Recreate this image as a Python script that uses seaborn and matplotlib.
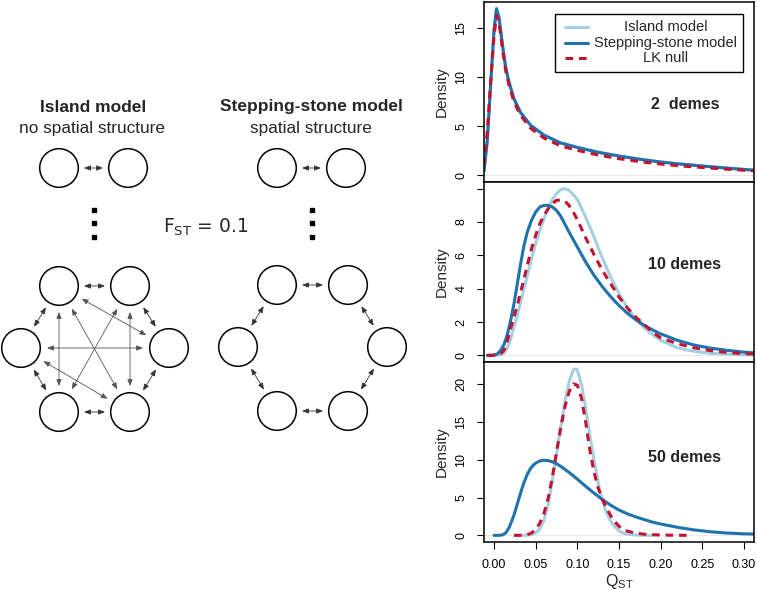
import numpy as np
import pandas as pd
import matplotlib
matplotlib.use("Agg")
import matplotlib.pyplot as plt
import seaborn as sns
from matplotlib.patches import Circle, FancyArrowPatch, Rectangle

# ---------------- data ----------------
models = ["Island model", "Stepping-stone model", "LK null"]

# 2 demes
x2 = [-0.012, -0.008, -0.004, 0.0, 0.003, 0.006, 0.01, 0.014, 0.018, 0.024, 0.032,
      0.044, 0.06, 0.08, 0.10, 0.125, 0.15, 0.175, 0.20, 0.225, 0.25, 0.275, 0.30, 0.312]
island2 = [0.4, 3.6, 9.3, 14.8, 17.0, 16.1, 13.4, 11.0, 9.5, 7.8, 6.4,
           5.1, 4.1, 3.3, 2.85, 2.35, 1.97, 1.64, 1.36, 1.14, 0.95, 0.77, 0.6, 0.53]
stepping2 = [0.4, 3.6, 9.3, 14.8, 17.0, 16.1, 13.4, 11.0, 9.5, 7.8, 6.4,
             5.1, 4.1, 3.3, 2.85, 2.35, 1.97, 1.64, 1.36, 1.14, 0.95, 0.77, 0.6, 0.53]
lk2 = [1.0, 4.5, 9.6, 14.2, 16.3, 15.6, 13.0, 10.7, 9.2, 7.5, 6.1,
       4.8, 3.8, 3.0, 2.55, 2.07, 1.7, 1.4, 1.15, 0.95, 0.8, 0.65, 0.52, 0.47]

# 10 demes
x10 = [-0.008, -0.004, 0.0, 0.004, 0.008, 0.012, 0.016, 0.02, 0.024, 0.028, 0.032, 0.036,
       0.04, 0.045, 0.05, 0.055, 0.06, 0.065, 0.07, 0.075, 0.08, 0.085, 0.09, 0.095,
       0.10, 0.11, 0.12, 0.13, 0.14, 0.15, 0.16, 0.17, 0.18, 0.19, 0.20, 0.22, 0.24,
       0.26, 0.28, 0.30, 0.312]
island10 = [0.0, 0.0, 0.0, 0.01, 0.03, 0.12, 0.45, 1.0, 1.7, 2.4, 3.2, 4.0,
            4.8, 5.8, 6.7, 7.5, 8.2, 8.85, 9.35, 9.7, 9.95, 10.0, 9.9, 9.65,
            9.35, 8.3, 7.1, 5.85, 4.7, 3.7, 2.85, 2.2, 1.65, 1.25, 0.9, 0.45, 0.24,
            0.12, 0.06, 0.03, 0.02]
stepping10 = [0.0, 0.0, 0.02, 0.08, 0.3, 0.65, 1.25, 2.1, 3.1, 4.3, 5.5, 6.6,
              7.4, 8.1, 8.6, 8.9, 9.0, 9.0, 8.9, 8.7, 8.35, 7.88, 7.4, 6.95,
              6.5, 5.6, 4.8, 4.12, 3.52, 2.99, 2.53, 2.14, 1.81, 1.53, 1.29, 0.9, 0.62,
              0.43, 0.3, 0.19, 0.15]
lk10 = [0.0, 0.0, 0.0, 0.02, 0.1, 0.3, 0.85, 1.6, 2.3, 3.0, 3.8, 4.6,
        5.4, 6.4, 7.2, 7.9, 8.4, 8.8, 9.1, 9.3, 9.32, 9.25, 9.0, 8.6,
        8.15, 7.05, 6.05, 5.1, 4.3, 3.5, 2.85, 2.3, 1.85, 1.4, 1.05, 0.7, 0.45,
        0.28, 0.17, 0.1, 0.08]

# 50 demes
x50_island = [0.03, 0.04, 0.045, 0.05, 0.055, 0.06, 0.065, 0.07, 0.075, 0.08, 0.085,
              0.09, 0.095, 0.098, 0.10, 0.105, 0.11, 0.115, 0.12, 0.125, 0.13, 0.135,
              0.14, 0.145, 0.15, 0.155, 0.16, 0.17, 0.18, 0.19]
island50 = [0.0, 0.02, 0.1, 0.3, 0.85, 2.0, 4.1, 7.2, 10.8, 14.3, 17.6,
            20.3, 21.9, 22.1, 21.9, 20.0, 16.8, 13.3, 10.0, 7.0, 4.6, 3.0,
            1.9, 1.15, 0.6, 0.3, 0.15, 0.04, 0.01, 0.0]
x50_stepping = [0.0, 0.005, 0.01, 0.014, 0.018, 0.021, 0.024, 0.027, 0.03, 0.033, 0.036,
                0.04, 0.044, 0.048, 0.052, 0.056, 0.06, 0.065, 0.07, 0.075, 0.08, 0.085,
                0.09, 0.095, 0.10, 0.11, 0.12, 0.13, 0.14, 0.15, 0.16, 0.17, 0.18, 0.19,
                0.20, 0.22, 0.24, 0.26, 0.28, 0.30, 0.312]
stepping50 = [0.0, 0.0, 0.05, 0.3, 1.0, 1.8, 2.7, 3.8, 4.9, 6.0, 7.0,
              8.1, 8.9, 9.4, 9.7, 9.9, 9.96, 9.9, 9.75, 9.5, 9.15, 8.75,
              8.35, 7.9, 7.45, 6.5, 5.6, 4.75, 4.0, 3.35, 2.85, 2.45, 2.1, 1.76,
              1.5, 1.07, 0.72, 0.47, 0.3, 0.2, 0.17]
x50_lk = [0.024, 0.03, 0.035, 0.04, 0.045, 0.05, 0.055, 0.06, 0.065, 0.07, 0.075, 0.08,
          0.085, 0.09, 0.095, 0.10, 0.105, 0.11, 0.115, 0.12, 0.125, 0.13, 0.135, 0.14,
          0.145, 0.15, 0.155, 0.16, 0.17, 0.18, 0.19, 0.20, 0.21, 0.22, 0.235]
lk50 = [0.0, 0.0, 0.02, 0.1, 0.3, 0.8, 1.6, 2.9, 4.9, 7.7, 11.0, 14.2,
        17.0, 19.0, 20.1, 19.9, 18.2, 15.0, 11.3, 8.4, 6.3, 4.8, 3.6, 2.6,
        1.8, 1.2, 0.8, 0.55, 0.3, 0.15, 0.08, 0.04, 0.02, 0.01, 0.0]

panel_labels = ["2  demes", "10 demes", "50 demes"]
x_ticks = [0.00, 0.05, 0.10, 0.15, 0.20, 0.25, 0.30]
x_tick_labels = ["0.00", "0.05", "0.10", "0.15", "0.20", "0.25", "0.30"]
y_ticks = [[0, 5, 10, 15], [0, 2, 4, 6, 8, 10], [0, 5, 10, 15, 20]]
y_tick_labels = [["0", "5", "10", "15"], ["0", "2", "4", "6", "8", ""],
                 ["0", "5", "10", "15", "20"]]

panels = [
    [(x2, island2), (x2, stepping2), (x2, lk2)],
    [(x10, island10), (x10, stepping10), (x10, lk10)],
    [(x50_island, island50), (x50_stepping, stepping50), (x50_lk, lk50)],
]
y_limits = [(-0.68, 17.68), (-0.4, 10.4), (-0.884, 22.98)]

# ---------------- style ----------------
sns.set_theme(style="ticks")
plt.rcParams["font.family"] = ["Liberation Sans", "DejaVu Sans"]
plt.rcParams["mathtext.fontset"] = "custom"
plt.rcParams["mathtext.rm"] = "Liberation Sans"
plt.rcParams["mathtext.it"] = "Liberation Sans:italic"

colors = {"Island model": "#a6cee3", "Stepping-stone model": "#1f72ae", "LK null": "#c4122f"}
styles = {"Island model": "-", "Stepping-stone model": "-", "LK null": (0, (2.5, 1.9))}
LW = 2.2

W, H = 757, 590
fig = plt.figure(figsize=(W / 100, H / 100), dpi=100)

# ---------------- left diagram ----------------
ax0 = fig.add_axes([0, 0, 477 / W, 1])
ax0.set_xlim(0, 477)
ax0.set_ylim(H, 0)
ax0.set_axis_off()

R = 19.3

def circ(c):
    ax0.add_patch(Circle(c, R, fill=False, lw=1.1, ec="black"))

def arrow(c1, c2, off=25, col="#333333"):
    c1 = np.array(c1, float)
    c2 = np.array(c2, float)
    d = c2 - c1
    u = d / np.hypot(*d)
    p1 = c1 + u * off
    p2 = c2 - u * off
    ax0.add_patch(FancyArrowPatch(tuple(p1), tuple(p2),
                                  arrowstyle="<|-|>,head_length=0.55,head_width=0.22",
                                  mutation_scale=7, lw=0.6, color=col,
                                  shrinkA=0, shrinkB=0))

# Island model
ax0.text(93, 111.5, "Island model", ha="center", va="baseline", fontsize=12.5, weight="bold")
ax0.text(92, 133, "no spatial structure", ha="center", va="baseline", fontsize=12.4)
itop = [(59, 168), (128, 168)]
for c in itop:
    circ(c)
arrow(itop[0], itop[1])
ax0.plot([94, 94, 94], [210, 223, 237], "s", ms=3, color="black")
ih = {"TL": (59, 286), "TR": (130, 286), "L": (21, 348), "R": (169, 348),
      "BL": (59, 412), "BR": (130, 412)}
for c in ih.values():
    circ(c)
for a, b in [("TL", "TR"), ("TL", "L"), ("L", "BL"), ("BL", "BR"), ("BR", "R"), ("R", "TR")]:
    arrow(ih[a], ih[b])
for a, b in [("TL", "BL"), ("TR", "BR"), ("L", "R"), ("TL", "BR"), ("TR", "BL"),
             ("TL", "R"), ("L", "BR")]:
    arrow(ih[a], ih[b], off=26, col="#555555")

# Stepping-stone model
ax0.text(311, 111.5, "Stepping-stone model", ha="center", va="baseline", fontsize=12.5, weight="bold")
ax0.text(311, 133, "spatial structure", ha="center", va="baseline", fontsize=12.4)
stop = [(277, 168), (346, 168)]
for c in stop:
    circ(c)
arrow(stop[0], stop[1])
ax0.plot([312, 312, 312], [210, 223, 237], "s", ms=3, color="black")
sh = {"TL": (277, 285), "TR": (348, 285), "L": (238, 347), "R": (387, 347),
      "BL": (277, 411), "BR": (348, 411)}
for c in sh.values():
    circ(c)
for a, b in [("TL", "TR"), ("TL", "L"), ("L", "BL"), ("BL", "BR"), ("BR", "R"), ("R", "TR")]:
    arrow(sh[a], sh[b])

ax0.text(206, 233, r"F$_{\mathrm{ST}}$ = 0.1", ha="center", va="baseline", fontsize=13.5,
         family="DejaVu Sans", math_fontfamily="dejavusans")

# ---------------- right density panels ----------------
left = 484 / W
width = 270 / W
ph = 180 / H
bottoms = [(H - 182) / H, (H - 362) / H, (H - 542) / H]
label_pos = [(0.744, 0.433), (0.741, 0.544), (0.741, 0.467)]

for i in range(3):
    ax = fig.add_axes([left, bottoms[i], width, ph])
    ax.axhline(0, color="#e8e8e8", lw=0.8, zorder=0)
    for m, (xs, ys) in zip(models, panels[i]):
        sns.lineplot(x=xs, y=ys, ax=ax, color=colors[m], lw=LW, linestyle=styles[m],
                     estimator=None, sort=False, legend=False)
    ax.set_xlim(-0.012, 0.312)
    ax.set_ylim(*y_limits[i])
    ax.set_yticks(y_ticks[i])
    ax.set_yticklabels(y_tick_labels[i], rotation=90, va="center")
    ax.set_ylabel("Density", fontsize=11, labelpad=5)
    ax.tick_params(axis="y", direction="out", length=5, width=0.8, labelsize=9, pad=7,
                   colors="black", left=True)
    if i == 2:
        ax.set_xticks(x_ticks)
        ax.set_xticklabels(x_tick_labels)
        ax.tick_params(axis="x", direction="out", length=5, width=0.8, labelsize=9, pad=7,
                       colors="black", bottom=True)
        ax.set_xlabel(r"Q$_{\mathrm{ST}}$", fontsize=11.5, labelpad=1)
    else:
        ax.set_xticks([])
        ax.set_xlabel("")
    for s in ax.spines.values():
        s.set_visible(True)
        s.set_color("black")
        s.set_linewidth(1.1)
    ax.text(label_pos[i][0], label_pos[i][1], panel_labels[i], transform=ax.transAxes,
            ha="center", va="center", fontsize=11.5, weight="bold")

    if i == 0:
        ax.add_patch(Rectangle((0.263, 0.611), 0.696, 0.322, transform=ax.transAxes,
                               fill=True, fc="white", ec="black", lw=1.0, zorder=5))
        rows = [0.861, 0.775, 0.689]
        for m, ry in zip(models, rows):
            ax.plot([0.30, 0.385], [ry, ry], transform=ax.transAxes, color=colors[m],
                    lw=LW, linestyle=styles[m], zorder=6)
            ax.text(0.674, ry, m, transform=ax.transAxes, ha="center", va="center",
                    fontsize=10.5, zorder=6)

fig.savefig("out.png", dpi=100)
